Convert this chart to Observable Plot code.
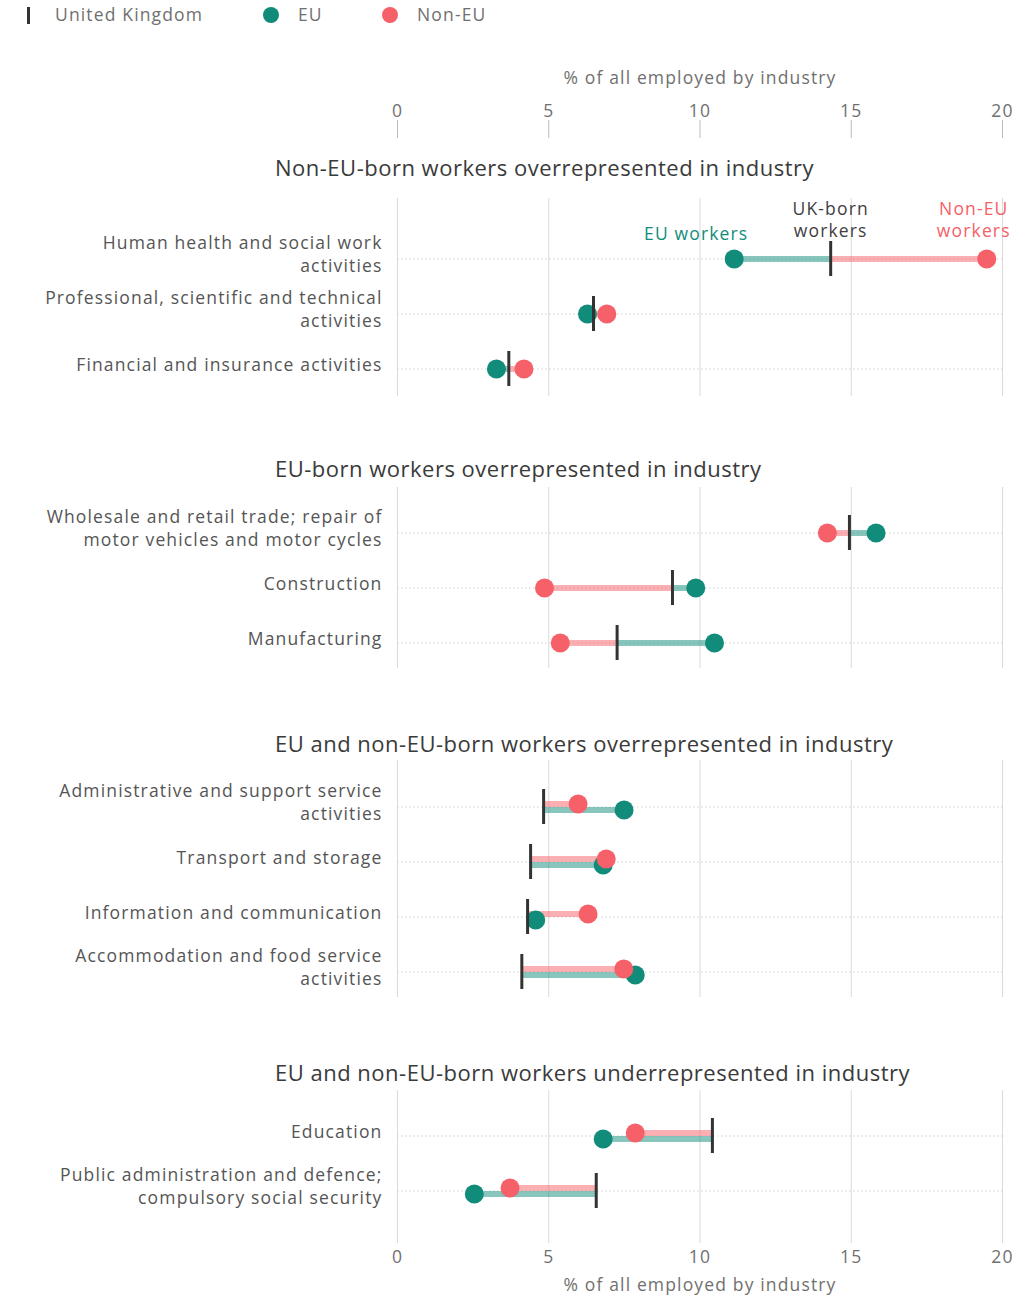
<!DOCTYPE html>
<html><head><meta charset="utf-8">
<script src="https://cdn.jsdelivr.net/npm/d3@7"></script>
<script src="https://cdn.jsdelivr.net/npm/@observablehq/plot@0.6"></script>
<style>
body{margin:0;background:#fff;font-family:"Open Sans",sans-serif;}
#root{position:relative;width:1033px;height:1297px;overflow:hidden;background:#fff;}
.title{font-size:22px;letter-spacing:0.5px;color:#3a3a3a;white-space:nowrap;line-height:1;}
.leg{font-size:17.5px;letter-spacing:1.15px;color:#707070;white-space:nowrap;line-height:1;}
svg{overflow:visible;}
</style></head><body><div id="root"></div>
<script>
// ---- data ----
const panelTitles = [
  "Non-EU-born workers overrepresented in industry",
  "EU-born workers overrepresented in industry",
  "EU and non-EU-born workers overrepresented in industry",
  "EU and non-EU-born workers underrepresented in industry"
];
const industries = [
  "Human health and social work activities",
  "Professional, scientific and technical activities",
  "Financial and insurance activities",
  "Wholesale and retail trade; repair of motor vehicles and motor cycles",
  "Construction",
  "Manufacturing",
  "Administrative and support service activities",
  "Transport and storage",
  "Information and communication",
  "Accommodation and food service activities",
  "Education",
  "Public administration and defence; compulsory social security"
];
const industryLabels = [
  "Human health and social work\nactivities",
  "Professional, scientific and technical\nactivities",
  "Financial and insurance activities",
  "Wholesale and retail trade; repair of\nmotor vehicles and motor cycles",
  "Construction",
  "Manufacturing",
  "Administrative and support service\nactivities",
  "Transport and storage",
  "Information and communication",
  "Accommodation and food service\nactivities",
  "Education",
  "Public administration and defence;\ncompulsory social security"
];
const industryPanel = [0,0,0,1,1,1,2,2,2,2,3,3];
const ukBorn    = [14.32, 6.48, 3.68, 14.94, 9.09, 7.26, 4.83, 4.40, 4.30, 4.11, 10.41, 6.57];
const euBorn    = [11.13, 6.28, 3.27, 15.82, 9.86, 10.48, 7.49, 6.80, 4.57, 7.86, 6.80, 2.54];
const nonEuBorn = [19.48, 6.92, 4.18, 14.21, 4.86, 5.38, 5.97, 6.90, 6.30, 7.48, 7.86, 3.72];
const xTicks = [0, 5, 10, 15, 20];
const xLabel = "% of all employed by industry";
const legendLabels = ["United Kingdom", "EU", "Non-EU"];
const annotationLabels = ["EU workers", "UK-born\nworkers", "Non-EU\nworkers"];

// ---- styles / layout ----
const TEAL = "#118c7b", CORAL = "#f66068", UKC = "#333333";
const W = 1033, ML = 397, MR = 31;
const FS = 17.5, LS = "1.15px";
const panelTop = [198, 487, 760, 1090];
const panelFrameH = [198, 181, 237, 153];
const firstRow = [60, 45, 46, 45];
const titleY = [168, 469, 744, 1073];
const dodge = [0, 0, 3, 3];
const ROW = 55;

const root = document.getElementById("root");
function place(el, top, left) { el.style.position = "absolute"; el.style.top = top + "px"; el.style.left = left + "px"; root.appendChild(el); }

// legend
(function(){
  const bar = document.createElement("div");
  bar.style.cssText = "width:3px;height:17px;background:" + UKC;
  place(bar, 7, 27);
  const cols = [null, TEAL, CORAL];
  const dotX = [null, 271, 390];
  const textX = [55, 298, 417];
  legendLabels.forEach((t, i) => {
    if (cols[i]) {
      const d = document.createElement("div");
      d.style.cssText = `width:16px;height:16px;border-radius:50%;background:${cols[i]}`;
      place(d, 7, dotX[i] - 8);
    }
    const s = document.createElement("div");
    s.className = "leg"; s.textContent = t;
    place(s, 6, textX[i]);
  });
})();

// top axis
(function(){
  const p = Plot.plot({
    width: W, height: 78, marginLeft: ML, marginRight: MR, marginTop: 60, marginBottom: 0,
    style: {fontFamily: "Open Sans", color: "#707070", background: "transparent", letterSpacing: LS},
    x: {domain: [0, 20], axis: null},
    marks: [
      Plot.tickX(xTicks, {x: d => d, stroke: "#bbbbbb"}),
      Plot.axisX(xTicks, {anchor: "top", tickSize: 0, tickPadding: 4, fontSize: FS, fill: "#707070",
        label: xLabel, labelAnchor: "center", labelArrow: "none", labelOffset: 49})
    ]
  });
  place(p, 60, 0);
})();

// panels
panelTitles.forEach((title, p) => {
  const idx = industries.map((_, i) => i).filter(i => industryPanel[i] === p);
  const table = idx.map(i => ({industry: industries[i], label: industryLabels[i], uk: ukBorn[i], eu: euBorn[i], nonEu: nonEuBorn[i]}));
  const labelOf = Object.fromEntries(table.map(d => [d.industry, d.label]));
  const n = table.length;
  const r0 = firstRow[p] - ROW / 2;
  const isLast = p === panelTitles.length - 1;
  const mb = isLast ? 54 : 0;
  const marks = [
    Plot.ruleX(xTicks, {x: d => d, stroke: "#dadada"}),
    Plot.ruleY(table, {y: "industry", stroke: "#cfcfcf", strokeDasharray: "1.5,2.5"}),
    Plot.link(table, {x1: "uk", x2: "eu", y1: "industry", y2: "industry", dy: dodge[p], stroke: TEAL, strokeOpacity: 0.5, strokeWidth: 6}),
    Plot.link(table, {x1: "uk", x2: "nonEu", y1: "industry", y2: "industry", dy: -dodge[p], stroke: CORAL, strokeOpacity: 0.5, strokeWidth: 6}),
    Plot.dot(table, {x: "eu", y: "industry", dy: dodge[p], r: 9.5, fill: TEAL}),
    Plot.dot(table, {x: "nonEu", y: "industry", dy: -dodge[p], r: 9.5, fill: CORAL}),
    Plot.tickX(table, {x: "uk", y: "industry", stroke: UKC, strokeWidth: 3, insetTop: 10, insetBottom: 10}),
    Plot.axisY({label: null, tickSize: 0, tickPadding: 15, fontSize: FS, fill: "#555555", lineHeight: 1.28, dy: -5.5, tickFormat: d => labelOf[d]})
  ];
  if (p === 0) {
    const d0 = [table[0]];
    marks.push(
      Plot.text(d0, {x: "eu", y: "industry", text: () => annotationLabels[0], dx: -38, dy: -25, fill: TEAL, fontSize: FS}),
      Plot.text(d0, {x: "uk", y: "industry", text: () => annotationLabels[1], dy: -40, fill: "#414042", fontSize: FS, lineHeight: 1.28}),
      Plot.text(d0, {x: "nonEu", y: "industry", text: () => annotationLabels[2], dx: -13, dy: -40, fill: CORAL, fontSize: FS, lineHeight: 1.28})
    );
  }
  if (isLast) {
    marks.push(Plot.axisX(xTicks, {anchor: "bottom", tickSize: 0, tickPadding: 7, fontSize: FS, fill: "#707070",
      label: xLabel, labelAnchor: "center", labelArrow: "none", labelOffset: 47}));
  }
  const plot = Plot.plot({
    width: W, height: panelFrameH[p] + mb, marginLeft: ML, marginRight: MR, marginTop: 0, marginBottom: mb,
    style: {fontFamily: "Open Sans", color: "#555", background: "transparent", letterSpacing: LS},
    x: {domain: [0, 20], axis: null},
    y: {type: "band", domain: table.map(d => d.industry), range: [r0, r0 + ROW * n], padding: 0, axis: null},
    marks
  });
  place(plot, panelTop[p], 0);
  const t = document.createElement("div");
  t.className = "title"; t.textContent = title;
  place(t, titleY[p] - 12, 275);
});
</script></body></html>
